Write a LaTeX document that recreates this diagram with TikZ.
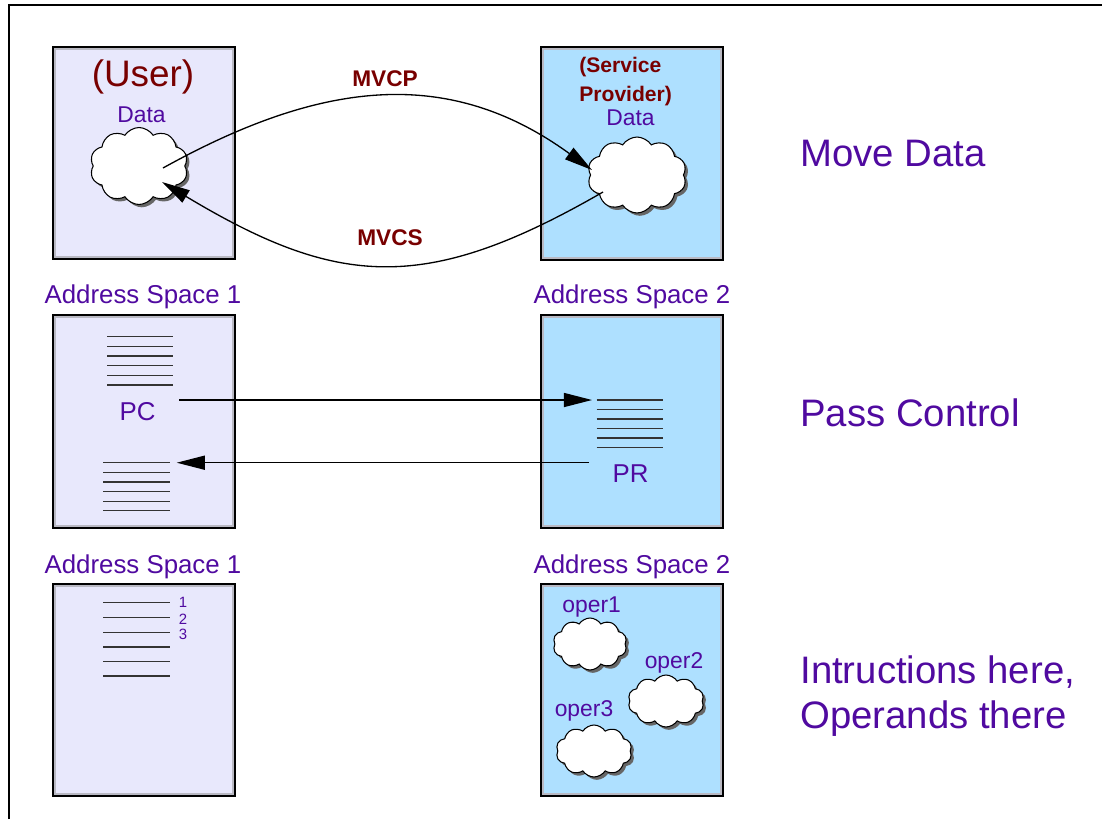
\documentclass[tikz,border=0pt]{standalone}
\usepackage{fontspec}
\setmainfont{Liberation Sans}
\usetikzlibrary{arrows.meta,shapes.symbols,shadows}
\definecolor{tpurple}{RGB}{80,10,160}
\definecolor{tred}{RGB}{120,0,0}
\definecolor{lav}{RGB}{232,232,252}
\definecolor{sky}{RGB}{174,224,255}
\definecolor{innergray}{RGB}{185,185,195}
\begin{document}
\begin{tikzpicture}[x=0.02cm,y=0.02cm,
  box/.style={draw=black,line width=1.2pt,minimum width=3.63cm,minimum height=4.24cm,inner sep=0pt},
  innerb/.style={draw=innergray,line width=1.1pt},
  cloudn/.style={cloud,cloud puffs=10,cloud puff arc=115,cloud ignores aspect,draw=black,line width=0.6pt,fill=white,
    drop shadow={shadow xshift=1.6pt,shadow yshift=-1.6pt,fill=black!60,opacity=1},inner sep=0pt},
  stk/.style={draw=black!80,line width=0.75pt},
  conn/.style={draw=black,line width=0.75pt,-{Triangle[length=16pt,width=8pt]}},
  lbl/.style={text=tpurple,inner sep=0pt},
  aslbl/.style={lbl,font=\fontsize{14.7}{17}\selectfont},
  biglbl/.style={lbl,anchor=west,align=left,font=\fontsize{21.8}{26}\selectfont},
  redlbl/.style={text=tred,inner sep=0pt,font=\fontsize{12.9}{15}\selectfont\bfseries},
  small/.style={lbl,font=\fontsize{13}{15}\selectfont}
]
\useasboundingbox (0,0) rectangle (1102,-819);
% frame
\draw[line width=0.6pt] (9,-819) -- (9,-5) -- (1102,-5);

% boxes
\node[box,fill=lav] (b1) at (144.25,-153) {};
\node[box,fill=sky] (b2) at (632,-153.5) {};
\node[box,fill=lav] (b3) at (144.25,-421.5) {};
\node[box,fill=sky] (b4) at (632,-421.5) {};
\node[box,fill=lav] (b5) at (144.25,-690) {};
\node[box,fill=sky] (b6) at (632,-690) {};
\foreach \b in {b1,b2,b3,b4,b5,b6}
  \draw[innerb] ([shift={(2.6,-2.6)}]\b.north west) rectangle ([shift={(-2.6,2.6)}]\b.south east);

% row 1
\node[text=tred,inner sep=0pt,font=\fontsize{21}{24}\selectfont] (user) at (143,-77) {(User)};
\node[small] (d1) at (141.5,-115) {Data};
\node[text=tred,inner sep=0pt,anchor=west,align=left,font=\fontsize{12}{16.4}\selectfont\bfseries] (sp) at (579,-81.5) {(Service\\Provider)};
\node[small] (d2) at (630.5,-118) {Data};
\node[cloudn,minimum width=1.96cm,minimum height=1.54cm] (uc) at (139,-166) {};
\node[cloudn,minimum width=1.98cm,minimum height=1.52cm] (sc) at (637,-175) {};
\draw[conn] ([shift={(24,-2)}]uc.center) .. controls +(29:179) and +(144:179) .. ([shift={(-45,5)}]sc.center);
\draw[conn] ([shift={(-34,-17)}]sc.center) .. controls +(210:205) and +(-31:205) .. ([shift={(23,-16)}]uc.center);
\node[redlbl] (mvcp) at (385,-79) {MVCP};
\node[redlbl] (mvcs) at (390,-238) {MVCS};
\node[biglbl] (md) at (800,-154) {Move Data};

% row 2
\node[aslbl] (as1a) at (143,-296.5) {Address Space 1};
\node[aslbl] (as2a) at (632,-296.5) {Address Space 2};
\foreach \y in {336.7,346.4,356,365.7,375.3,385}
  \draw[stk] (107,-\y) -- (173,-\y);
\foreach \y in {462.7,472.4,482,491.7,501.3,510.8}
  \draw[stk] (103.3,-\y) -- (170,-\y);
\foreach \y in {400,409.5,419,428.5,438,447.7}
  \draw[stk] (596.7,-\y) -- (663.3,-\y);
\node[aslbl] (pc) at (137.5,-412) {PC};
\node[aslbl] (pr) at (630.5,-473.5) {PR};
\coordinate (pcout) at (179.3,-400);
\coordinate (prin) at (592,-400);
\coordinate (prout) at (589,-462.7);
\coordinate (pcin) at (176.7,-462.7);
\draw[conn] (pcout) -- (prin);
\draw[conn] (prout) -- (pcin);
\node[biglbl] (pcl) at (800,-413) {Pass Control};

% row 3
\node[aslbl] (as1b) at (143,-566.5) {Address Space 1};
\node[aslbl] (as2b) at (632,-566.5) {Address Space 2};
\foreach \y in {602.7,617.7,632.3,647,661.7,676}
  \draw[stk] (103.3,-\y) -- (170,-\y);
\node[lbl,font=\fontsize{8.5}{10}\selectfont] (n1) at (183,-602) {1};
\node[lbl,font=\fontsize{8.5}{10}\selectfont] (n2) at (183,-619) {2};
\node[lbl,font=\fontsize{8.5}{10}\selectfont] (n3) at (183,-634) {3};
\node[small] (o1) at (591.7,-607) {oper1};
\node[small] (o2) at (674,-663) {oper2};
\node[small] (o3) at (584,-711) {oper3};
\node[cloudn,minimum width=1.48cm,minimum height=1.04cm] (c1) at (590,-644) {};
\node[cloudn,minimum width=1.52cm,minimum height=1.04cm] (c2) at (666,-701) {};
\node[cloudn,minimum width=1.52cm,minimum height=1.04cm] (c3) at (594,-751) {};
\node[biglbl] (ioh) at (800,-696) {Intructions here,\\Operands there};
\end{tikzpicture}
\end{document}
